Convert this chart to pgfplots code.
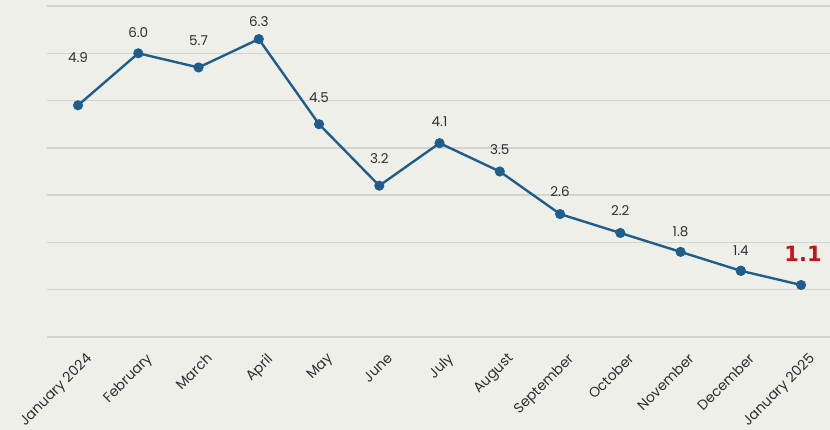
\documentclass[border=0pt]{standalone}
\usepackage{fontspec}
\setmainfont{Poppins}
\newfontfamily\dejavu{DejaVu Sans}
\usepackage{pgfplots}
\usepackage{pgfplotstable}
\pgfplotsset{compat=1.18}
\usetikzlibrary{backgrounds}

\definecolor{bgc}{HTML}{EFEFEA}
\definecolor{gridc}{HTML}{D4D4CF}
\definecolor{linec}{HTML}{1F5E8C}
\definecolor{redc}{HTML}{C4151C}
\definecolor{txtc}{HTML}{2E2E2E}

% x, rate, label, label offset above point (pt)
\pgfplotstableread{
x  y    lab  dy
0  4.9  4.9  38
1  6.0  6.0  11
2  5.7  5.7  17
3  6.3  6.3  8
4  4.5  4.5  17
5  3.2  3.2  18
6  4.1  4.1  12
7  3.5  3.5  12
8  2.6  2.6  13
9  2.2  2.2  13
10 1.8  1.8  11
11 1.4  1.4  11
}\ratedata

\pgfplotstableread{
x  y    lab
12 1.1  1.1
}\lastdata

\begin{document}
\begin{tikzpicture}
\begin{axis}[
  name=ax,
  scale only axis,
  width=783pt, height=331pt,
  xmin=-0.515, xmax=12.48,
  ymin=0, ymax=7.0,
  axis line style={draw=none},
  ytick={0,1,...,7},
  yticklabels={},
  ymajorgrids,
  major grid style={gridc, line width=1.3pt},
  major tick length=0pt,
  xtick={0,...,12},
  xticklabels={January 2024,February,March,April,May,June,July,August,September,October,November,December,January 2025},
  xticklabel style={anchor=north east, inner sep=0pt, xshift=7pt, yshift=-15pt, rotate=45, font=\fontsize{14}{15}\selectfont, text=txtc},
  clip=false,
]
\addplot[linec, line width=2.4pt, mark=*, mark size=3.8pt,
  point meta=explicit symbolic,
  visualization depends on={\thisrow{dy} \as \dy},
  nodes near coords,
  every node near coord/.append style={font=\fontsize{13.5}{14}\selectfont, text=txtc, anchor=south, yshift=\dy pt},
] table[x=x, y=y, meta=lab] {\ratedata};
\addplot[linec, line width=2.4pt, mark=*, mark size=3.8pt, forget plot] coordinates {(11,1.4) (12,1.1)};
\addplot[draw=none, mark=none,
  point meta=explicit symbolic,
  nodes near coords,
  every node near coord/.append style={font=\dejavu\bfseries\fontsize{21}{22}\selectfont, text=redc, anchor=south, inner sep=0pt, xshift=2pt, yshift=23pt},
] table[x=x, y=y, meta=lab] {\lastdata};
\end{axis}
\pgfresetboundingbox
\path[use as bounding box] ([shift={(-47pt,-93pt)}]ax.south west) rectangle ([shift={(0pt,6pt)}]ax.north east);
\begin{scope}[on background layer]
\fill[bgc] ([shift={(-47pt,-93pt)}]ax.south west) rectangle ([shift={(0pt,6pt)}]ax.north east);
\end{scope}
\end{tikzpicture}
\end{document}
